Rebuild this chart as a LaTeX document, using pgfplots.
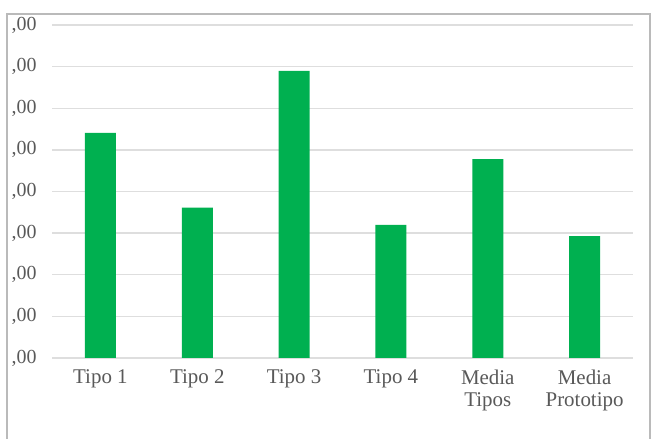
\documentclass[border=0pt]{standalone}
\usepackage{pgfplots}
\pgfplotsset{compat=1.18}
\usepackage{fontspec}
\setmainfont{Liberation Serif}

\definecolor{barGreen}{RGB}{0,176,80}
\definecolor{gridGray}{RGB}{222,222,222}
\definecolor{frameGray}{RGB}{186,186,186}
\definecolor{labelGray}{RGB}{89,89,89}

\begin{document}
\begin{tikzpicture}[x=1bp,y=1bp]
\useasboundingbox (0,0) rectangle (659,439);
\fill[white] (0,0) rectangle (659,439);
\draw[frameGray, line width=2bp] (7,0) -- (7,425) -- (650,425) -- (650,0);

\begin{axis}[
at={(52bp,81bp)}, anchor=south west,
scale only axis,
width=581bp, height=333bp,
xmin=-0.5, xmax=5.5,
ymin=0, ymax=8,
axis line style={draw=none},
major tick length=0pt,
xtick={0,1,2,3,4,5},
xticklabels={Tipo 1,Tipo 2,Tipo 3,Tipo 4,{Media\\Tipos},{Media\\Prototipo}},
xticklabel style={align=center, font=\fontsize{21}{23}\selectfont, text=labelGray, yshift=-8bp},
ytick={0,1,2,3,4,5,6,7,8},
yticklabel={,00},
yticklabel style={font=\fontsize{20}{23}\selectfont, text=labelGray, xshift=-12bp},
ymajorgrids,
major grid style={gridGray, line width=1.3bp},
ybar, bar width=31bp, bar shift=0pt,
]
\addplot[fill=barGreen, draw=none] coordinates {
(0,5.41) (1,3.61) (2,6.90) (3,3.20) (4,4.78) (5,2.93)
};
\end{axis}
\end{tikzpicture}
\end{document}
